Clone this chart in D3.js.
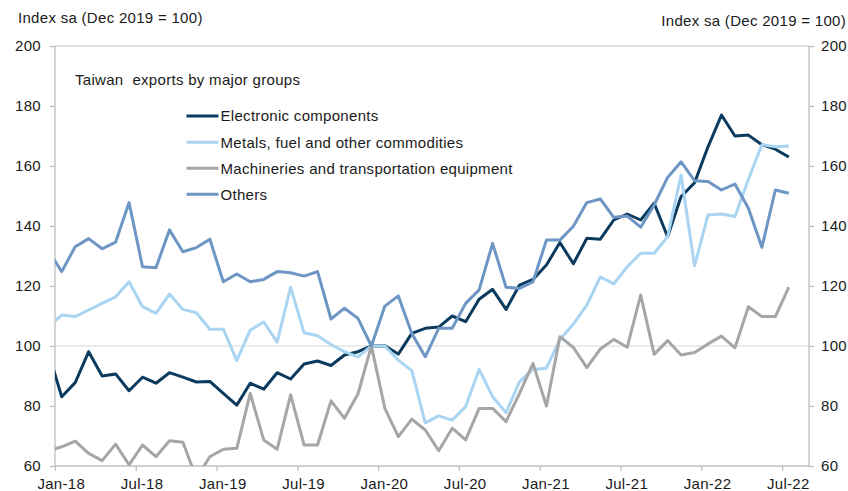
<!DOCTYPE html>
<html><head><meta charset="utf-8">
<script src="https://cdn.jsdelivr.net/npm/d3@7"></script>
<style>
body{margin:0;background:#fff;}
text{font-family:"Liberation Sans",Arial,sans-serif;fill:#1a1a1a;}
</style></head>
<body><svg id="c" width="848" height="491"></svg>
<script>
// Months from Dec-17 (lead-in point, clipped at the axis) to Jul-22
const months = ["Dec-17",
 "Jan-18","Feb-18","Mar-18","Apr-18","May-18","Jun-18","Jul-18","Aug-18","Sep-18","Oct-18","Nov-18","Dec-18",
 "Jan-19","Feb-19","Mar-19","Apr-19","May-19","Jun-19","Jul-19","Aug-19","Sep-19","Oct-19","Nov-19","Dec-19",
 "Jan-20","Feb-20","Mar-20","Apr-20","May-20","Jun-20","Jul-20","Aug-20","Sep-20","Oct-20","Nov-20","Dec-20",
 "Jan-21","Feb-21","Mar-21","Apr-21","May-21","Jun-21","Jul-21","Aug-21","Sep-21","Oct-21","Nov-21","Dec-21",
 "Jan-22","Feb-22","Mar-22","Apr-22","May-22","Jun-22","Jul-22"];
const electronic = [98.0,
 83.1,87.8,98.1,90.0,90.7,85.1,89.6,87.6,91.1,89.6,88.0,88.2,
 84.2,80.3,87.6,85.6,91.1,89.0,94.0,95.0,93.5,97.0,98.1,100.0,
 100.1,97.3,104.2,105.9,106.3,110.0,108.1,115.6,118.9,112.2,120.3,122.2,
 127.0,134.5,127.4,135.9,135.6,142.0,144.0,142.0,147.6,136.4,149.8,154.4,
 166.4,177.0,170.0,170.3,167.1,165.6,163.0];
const metals = [106.3,
 110.3,109.8,112.0,114.2,116.4,121.4,113.1,110.9,117.3,112.2,111.1,105.6,
 105.6,95.1,105.3,108.0,101.3,119.6,104.4,103.4,100.5,98.1,96.4,100.0,
 100.0,95.3,91.8,74.4,76.7,75.3,79.8,92.2,83.1,77.8,88.1,92.2,
 92.6,102.2,107.3,113.6,123.0,120.7,126.4,130.9,130.9,136.4,157.0,126.7,
 143.7,144.0,143.2,155.6,167.1,166.4,166.7];
const machineries = [65.0,
 66.4,68.3,64.2,61.8,67.3,60.4,67.0,63.1,68.4,67.9,56.0,63.1,
 65.6,65.9,84.2,68.7,65.6,83.7,67.0,67.0,81.7,75.9,84.0,100.0,
 79.2,69.8,75.6,72.0,65.1,72.6,68.7,79.2,79.2,74.8,84.2,94.2,
 80.0,103.1,99.5,92.8,99.0,102.2,99.6,117.0,97.2,101.8,97.0,97.8,
 100.7,103.3,99.4,113.1,109.8,109.8,119.6];
const others = [131.9,
 124.8,133.1,135.8,132.4,134.6,147.8,126.4,126.1,138.7,131.4,132.8,135.6,
 121.4,124.0,121.4,122.2,124.8,124.4,123.3,124.8,109.0,112.6,109.2,100.0,
 113.3,116.7,104.2,96.4,105.9,105.9,114.2,118.7,134.2,119.6,119.2,121.4,
 135.3,135.3,139.9,147.8,149.0,142.9,143.3,139.6,147.0,156.2,161.4,155.1,
 154.8,152.0,154.0,145.9,132.9,152.0,150.9];
const seriesNames = ["Electronic components","Metals, fuel and other commodities","Machineries and transportation equipment","Others"];
const seriesColors = ["#0b3a5f","#a9d4f2","#a6a6a6","#6e96c4"];
const yTicks = [60,80,100,120,140,160,180,200];
const xTickLabels = ["Jan-18","Jul-18","Jan-19","Jul-19","Jan-20","Jul-20","Jan-21","Jul-21","Jan-22","Jul-22"];
const axisTitle = "Index sa (Dec 2019 = 100)";
const chartTitle = "Taiwan  exports by major groups";

const svg = d3.select("#c");
const L = 55, R = 809, T = 46, B = 466;
const nMonths = 56; // Jan-18 .. Aug-22 boundaries
const x = d3.scaleLinear().domain([0, nMonths]).range([L, R]);
const y = d3.scaleLinear().domain([60, 200]).range([B, T]);
const step = x(1) - x(0);
const LS = "0.3px";

// plot border top + gridline at 100
svg.append("line").attr("x1", L).attr("x2", R).attr("y1", y(200)).attr("y2", y(200))
  .attr("stroke", "#bfbfbf").attr("stroke-width", 1);
svg.append("line").attr("x1", L).attr("x2", R).attr("y1", y(100)).attr("y2", y(100))
  .attr("stroke", "#d9d9d9").attr("stroke-width", 1.2);

// axes
const fmt = d => d;
const gl = svg.append("g").attr("transform", `translate(${L},0)`)
  .call(d3.axisLeft(y).tickValues(yTicks).tickSize(5).tickPadding(9).tickFormat(fmt));
const gr = svg.append("g").attr("transform", `translate(${R},0)`)
  .call(d3.axisRight(y).tickValues(yTicks).tickSize(5).tickPadding(7).tickFormat(fmt));
const xTickIdx = xTickLabels.map((d, i) => i * 6);
const gb = svg.append("g").attr("transform", `translate(0,${B})`)
  .call(d3.axisBottom(x).tickValues(xTickIdx).tickSize(5).tickPadding(7)
    .tickFormat((d, i) => xTickLabels[i]));
gb.selectAll(".tick text").attr("dx", step / 2 - 1);
[gl, gr, gb].forEach(g => {
  g.selectAll("path.domain").attr("stroke", "#bfbfbf").attr("stroke-width", 1.3);
  g.selectAll(".tick line").attr("stroke", "#bfbfbf").attr("stroke-width", 1.3);
  g.selectAll("text").style("font-size", "15px").style("letter-spacing", LS)
    .style("font-family", "'Liberation Sans',Arial,sans-serif").attr("fill", "#1a1a1a");
});
gl.select("path.domain").attr("d", `M0,${B}V${T}`);
gr.select("path.domain").attr("d", `M0,${B}V${T}`);
gb.select("path.domain").attr("d", `M${L},0H${R}`);

// clip
svg.append("clipPath").attr("id", "clip").append("rect")
  .attr("x", L).attr("y", T).attr("width", R - L).attr("height", B - T);

const allSeries = [electronic, metals, machineries, others];
const line = d3.line().x((d, i) => x(i - 0.5)).y(d => y(d));
const lg = svg.append("g").attr("clip-path", "url(#clip)");
allSeries.forEach((s, k) => {
  lg.append("path").datum(s).attr("d", line).attr("fill", "none")
    .attr("stroke", seriesColors[k]).attr("stroke-width", 3)
    .attr("stroke-linejoin", "round").attr("stroke-linecap", "butt");
});

// titles
svg.append("text").attr("x", 18).attr("y", 23).style("font-size", "15px").style("letter-spacing", LS).text(axisTitle);
svg.append("text").attr("x", 846).attr("y", 26).attr("text-anchor", "end").style("font-size", "15px").style("letter-spacing", LS).text(axisTitle);
svg.append("text").attr("x", 75).attr("y", 85).style("font-size", "15px").style("letter-spacing", LS).style("white-space", "pre").text(chartTitle);

// legend
const legY = [116, 142.3, 168.3, 194.3];
seriesNames.forEach((n, k) => {
  svg.append("line").attr("x1", 186.5).attr("x2", 218.5).attr("y1", legY[k]).attr("y2", legY[k])
    .attr("stroke", seriesColors[k]).attr("stroke-width", 3);
  svg.append("text").attr("x", 220.5).attr("y", legY[k]).attr("dy", "0.36em")
    .style("font-size", "15px").style("letter-spacing", LS).text(n);
});
</script></body></html>
